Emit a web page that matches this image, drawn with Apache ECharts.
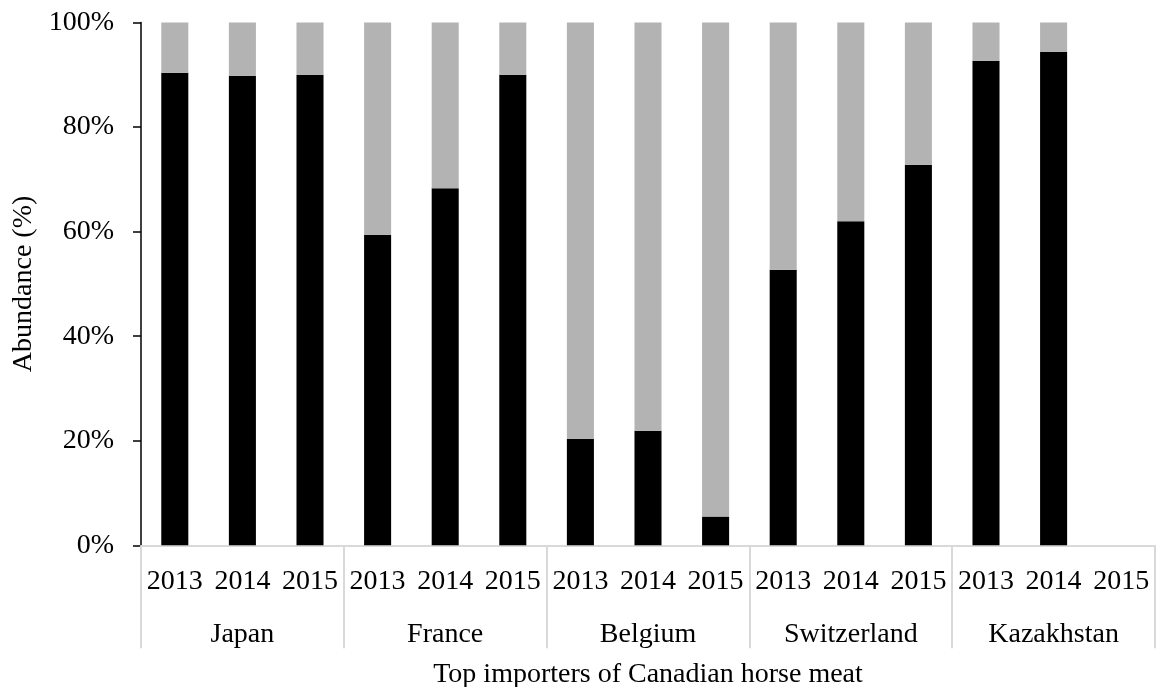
<!DOCTYPE html>
<html>
<head>
<meta charset="utf-8">
<script src="https://cdn.jsdelivr.net/npm/echarts@6/dist/echarts.min.js"></script>
<style>
html,body{margin:0;padding:0;background:#fff;}
#chart{width:1156px;height:687px;}
</style>
</head>
<body>
<div id="chart"></div>
<script>
var countries = ['Japan', 'France', 'Belgium', 'Switzerland', 'Kazakhstan'];
var years = ['2013', '2014', '2015', '2013', '2014', '2015', '2013', '2014', '2015', '2013', '2014', '2015', '2013', '2014', '2015'];
var blackValues = [90.4, 89.8, 90.0, 59.4, 68.3, 90.0, 20.4, 21.9, 5.5, 52.7, 62.0, 72.8, 92.7, 94.4, null];
var grayValues = [9.6, 10.2, 10.0, 40.6, 31.7, 10.0, 79.6, 78.1, 94.5, 47.3, 38.0, 27.2, 7.3, 5.6, null];
var yTicks = [0, 20, 40, 60, 80, 100];
var xTitle = 'Top importers of Canadian horse meat';
var yTitle = 'Abundance (%)';

var FONT = 'Liberation Serif';
var chart = echarts.init(document.getElementById('chart'), null, {renderer: 'canvas'});
chart.setOption({
  animation: false,
  backgroundColor: '#ffffff',
  textStyle: {fontFamily: FONT},
  grid: {left: 141, right: 1, top: 22.5, bottom: 141.7, containLabel: false, outerBoundsMode: 'none'},
  xAxis: [
    {
      type: 'category',
      data: years,
      position: 'bottom',
      axisLine: {show: true, lineStyle: {color: '#d9d9d9', width: 2}},
      axisTick: {show: false},
      axisLabel: {color: '#000', fontFamily: FONT, fontSize: 28, margin: 22, interval: 0},
      splitLine: {show: false}
    },
    {
      type: 'category',
      data: countries,
      position: 'bottom',
      offset: 0,
      axisLine: {show: false},
      axisTick: {show: true, length: 103, lineStyle: {color: '#d9d9d9', width: 2}},
      axisLabel: {color: '#000', fontFamily: FONT, fontSize: 28, margin: 75, interval: 0},
      name: xTitle,
      nameLocation: 'middle',
      nameGap: 115,
      nameTextStyle: {color: '#000', fontFamily: FONT, fontSize: 28},
      splitLine: {show: false}
    }
  ],
  yAxis: {
    type: 'value',
    min: yTicks[0],
    max: yTicks[yTicks.length - 1],
    interval: yTicks[1] - yTicks[0],
    axisLine: {show: true, lineStyle: {color: '#000', width: 1.5}},
    axisTick: {show: true, length: 8, lineStyle: {color: '#000', width: 1.5}},
    axisLabel: {color: '#000', fontFamily: FONT, fontSize: 28, margin: 27, formatter: '{value}%'},
    splitLine: {show: false},
    name: yTitle,
    nameLocation: 'middle',
    nameGap: 103,
    nameTextStyle: {color: '#000', fontFamily: FONT, fontSize: 28}
  },
  series: [
    {
      type: 'bar',
      stack: 'a',
      xAxisIndex: 0,
      data: blackValues,
      barWidth: '40%',
      itemStyle: {color: '#000000'}
    },
    {
      type: 'bar',
      stack: 'a',
      xAxisIndex: 0,
      data: grayValues,
      barWidth: '40%',
      itemStyle: {color: '#b3b3b3'}
    }
  ]
});
</script>
</body>
</html>
